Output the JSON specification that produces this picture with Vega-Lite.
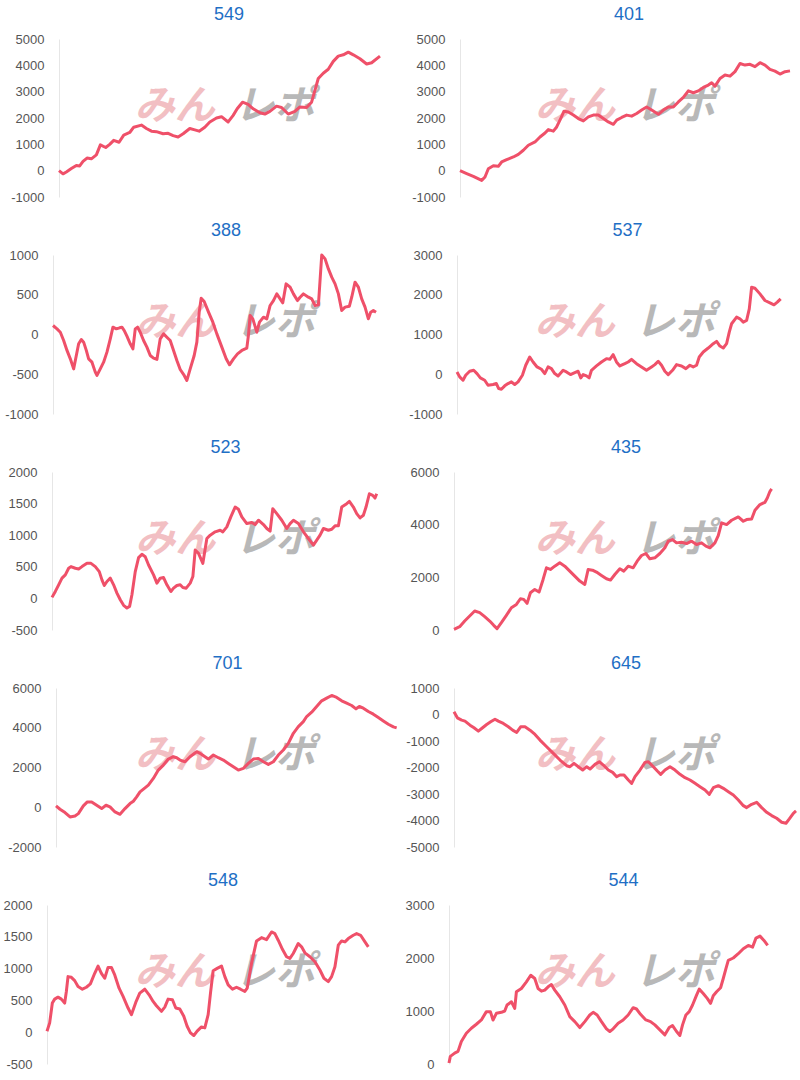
{
"$schema": "https://vega.github.io/schema/vega-lite/v6.json",
"background": "white",
"padding": {"left": 0, "top": 6, "right": 0, "bottom": 0},
"spacing": 18,
"columns": 1,
"datasets": {
"s549": [{"x":0,"y":0},{"x":12,"y":-120},{"x":22,"y":-50},{"x":37,"y":80},{"x":52,"y":200},{"x":62,"y":180},{"x":72,"y":350},{"x":84,"y":480},{"x":97,"y":450},{"x":112,"y":600},{"x":124,"y":980},{"x":140,"y":880},{"x":152,"y":1000},{"x":164,"y":1150},{"x":180,"y":1080},{"x":194,"y":1350},{"x":212,"y":1450},{"x":224,"y":1650},{"x":247,"y":1730},{"x":262,"y":1600},{"x":277,"y":1500},{"x":292,"y":1480},{"x":312,"y":1400},{"x":327,"y":1420},{"x":342,"y":1330},{"x":357,"y":1280},{"x":372,"y":1400},{"x":392,"y":1600},{"x":407,"y":1550},{"x":420,"y":1500},{"x":437,"y":1650},{"x":452,"y":1850},{"x":472,"y":2000},{"x":487,"y":2050},{"x":507,"y":1850},{"x":522,"y":2100},{"x":534,"y":2350},{"x":550,"y":2600},{"x":567,"y":2520},{"x":582,"y":2350},{"x":602,"y":2200},{"x":617,"y":2150},{"x":632,"y":2250},{"x":652,"y":2450},{"x":667,"y":2400},{"x":687,"y":2150},{"x":707,"y":2250},{"x":722,"y":2420},{"x":742,"y":2400},{"x":757,"y":2600},{"x":767,"y":3050},{"x":777,"y":3500},{"x":792,"y":3700},{"x":807,"y":3850},{"x":822,"y":4150},{"x":837,"y":4350},{"x":852,"y":4400},{"x":867,"y":4500},{"x":882,"y":4400},{"x":902,"y":4250},{"x":922,"y":4050},{"x":937,"y":4100},{"x":962,"y":4350}],
"s401": [{"x":0,"y":0},{"x":20,"y":-110},{"x":40,"y":-215},{"x":65,"y":-370},{"x":75,"y":-240},{"x":85,"y":75},{"x":100,"y":190},{"x":115,"y":165},{"x":125,"y":330},{"x":140,"y":420},{"x":160,"y":520},{"x":175,"y":620},{"x":190,"y":775},{"x":205,"y":965},{"x":225,"y":1090},{"x":240,"y":1280},{"x":255,"y":1430},{"x":265,"y":1560},{"x":280,"y":1500},{"x":290,"y":1660},{"x":302,"y":1980},{"x":312,"y":2260},{"x":325,"y":2230},{"x":340,"y":2110},{"x":355,"y":1980},{"x":370,"y":1890},{"x":385,"y":2040},{"x":400,"y":2110},{"x":415,"y":2110},{"x":430,"y":1980},{"x":445,"y":1850},{"x":460,"y":1760},{"x":470,"y":1920},{"x":485,"y":2020},{"x":500,"y":2110},{"x":515,"y":2070},{"x":530,"y":2170},{"x":545,"y":2300},{"x":560,"y":2420},{"x":575,"y":2300},{"x":595,"y":2140},{"x":610,"y":2300},{"x":625,"y":2420},{"x":640,"y":2420},{"x":655,"y":2610},{"x":670,"y":2780},{"x":685,"y":3030},{"x":700,"y":2960},{"x":715,"y":3030},{"x":730,"y":3160},{"x":745,"y":3250},{"x":755,"y":3340},{"x":765,"y":3210},{"x":780,"y":3500},{"x":795,"y":3630},{"x":810,"y":3590},{"x":825,"y":3760},{"x":840,"y":4070},{"x":855,"y":4010},{"x":870,"y":4040},{"x":885,"y":3950},{"x":900,"y":4100},{"x":915,"y":4010},{"x":930,"y":3850},{"x":945,"y":3780},{"x":960,"y":3670},{"x":975,"y":3760},{"x":990,"y":3790}],
"s388": [{"x":0,"y":113},{"x":12,"y":71},{"x":22,"y":29},{"x":32,"y":-75},{"x":42,"y":-200},{"x":52,"y":-306},{"x":62,"y":-432},{"x":70,"y":-264},{"x":77,"y":-117},{"x":85,"y":-63},{"x":92,"y":-96},{"x":100,"y":-200},{"x":107,"y":-306},{"x":117,"y":-348},{"x":127,"y":-473},{"x":132,"y":-515},{"x":142,"y":-432},{"x":152,"y":-348},{"x":162,"y":-222},{"x":172,"y":-54},{"x":180,"y":92},{"x":190,"y":71},{"x":200,"y":84},{"x":207,"y":92},{"x":214,"y":50},{"x":222,"y":-21},{"x":232,"y":-117},{"x":240,"y":-180},{"x":247,"y":71},{"x":254,"y":92},{"x":262,"y":29},{"x":272,"y":-75},{"x":282,"y":-159},{"x":292,"y":-264},{"x":302,"y":-297},{"x":312,"y":-314},{"x":322,"y":-54},{"x":332,"y":8},{"x":342,"y":-34},{"x":352,"y":-75},{"x":362,"y":-201},{"x":372,"y":-327},{"x":382,"y":-440},{"x":394,"y":-515},{"x":402,"y":-578},{"x":412,"y":-432},{"x":424,"y":-264},{"x":432,"y":-96},{"x":439,"y":281},{"x":445,"y":457},{"x":454,"y":415},{"x":467,"y":281},{"x":480,"y":155},{"x":492,"y":8},{"x":507,"y":-159},{"x":520,"y":-306},{"x":530,"y":-381},{"x":542,"y":-306},{"x":554,"y":-243},{"x":567,"y":-201},{"x":582,"y":-172},{"x":587,"y":-4},{"x":592,"y":239},{"x":600,"y":197},{"x":612,"y":29},{"x":620,"y":155},{"x":632,"y":218},{"x":642,"y":197},{"x":652,"y":365},{"x":662,"y":427},{"x":672,"y":511},{"x":682,"y":448},{"x":690,"y":398},{"x":700,"y":637},{"x":712,"y":595},{"x":722,"y":511},{"x":734,"y":427},{"x":742,"y":469},{"x":752,"y":511},{"x":767,"y":469},{"x":777,"y":448},{"x":787,"y":365},{"x":797,"y":373},{"x":807,"y":1000},{"x":817,"y":951},{"x":827,"y":825},{"x":837,"y":721},{"x":847,"y":637},{"x":857,"y":511},{"x":867,"y":302},{"x":877,"y":344},{"x":890,"y":356},{"x":897,"y":469},{"x":907,"y":658},{"x":917,"y":595},{"x":927,"y":448},{"x":937,"y":344},{"x":947,"y":197},{"x":954,"y":281},{"x":962,"y":302},{"x":970,"y":281}],
"s537": [{"x":0,"y":58},{"x":8,"y":-67},{"x":18,"y":-150},{"x":26,"y":-25},{"x":38,"y":75},{"x":50,"y":100},{"x":60,"y":17},{"x":70,"y":-92},{"x":83,"y":-150},{"x":93,"y":-276},{"x":108,"y":-259},{"x":118,"y":-234},{"x":125,"y":-359},{"x":133,"y":-376},{"x":143,"y":-292},{"x":153,"y":-234},{"x":163,"y":-192},{"x":173,"y":-259},{"x":183,"y":-192},{"x":196,"y":-25},{"x":206,"y":226},{"x":218,"y":434},{"x":228,"y":309},{"x":240,"y":184},{"x":253,"y":125},{"x":263,"y":17},{"x":273,"y":184},{"x":283,"y":142},{"x":293,"y":17},{"x":303,"y":-42},{"x":318,"y":100},{"x":328,"y":58},{"x":340,"y":-8},{"x":353,"y":42},{"x":363,"y":75},{"x":371,"y":-92},{"x":378,"y":-8},{"x":388,"y":-42},{"x":396,"y":-92},{"x":403,"y":100},{"x":418,"y":209},{"x":433,"y":309},{"x":448,"y":393},{"x":458,"y":376},{"x":468,"y":493},{"x":478,"y":309},{"x":488,"y":209},{"x":503,"y":267},{"x":513,"y":309},{"x":523,"y":376},{"x":538,"y":267},{"x":553,"y":184},{"x":568,"y":100},{"x":583,"y":184},{"x":593,"y":242},{"x":603,"y":326},{"x":613,"y":226},{"x":623,"y":75},{"x":633,"y":-8},{"x":646,"y":100},{"x":658,"y":242},{"x":673,"y":209},{"x":686,"y":142},{"x":698,"y":226},{"x":708,"y":184},{"x":718,"y":226},{"x":726,"y":434},{"x":738,"y":560},{"x":753,"y":660},{"x":768,"y":769},{"x":778,"y":827},{"x":788,"y":710},{"x":798,"y":660},{"x":808,"y":769},{"x":816,"y":1061},{"x":823,"y":1270},{"x":838,"y":1437},{"x":848,"y":1395},{"x":858,"y":1312},{"x":868,"y":1354},{"x":876,"y":1646},{"x":883,"y":2189},{"x":893,"y":2164},{"x":908,"y":2022},{"x":923,"y":1855},{"x":938,"y":1796},{"x":950,"y":1746},{"x":960,"y":1813},{"x":970,"y":1897}],
"s523": [{"x":0,"y":16},{"x":10,"y":110},{"x":20,"y":215},{"x":30,"y":320},{"x":40,"y":372},{"x":50,"y":477},{"x":57,"y":503},{"x":70,"y":477},{"x":80,"y":466},{"x":90,"y":503},{"x":105,"y":555},{"x":117,"y":555},{"x":130,"y":503},{"x":142,"y":424},{"x":150,"y":293},{"x":157,"y":204},{"x":165,"y":267},{"x":175,"y":320},{"x":185,"y":215},{"x":195,"y":84},{"x":205,"y":-21},{"x":215,"y":-110},{"x":225,"y":-152},{"x":233,"y":-126},{"x":240,"y":58},{"x":250,"y":424},{"x":260,"y":645},{"x":270,"y":697},{"x":280,"y":660},{"x":290,"y":529},{"x":305,"y":372},{"x":315,"y":241},{"x":325,"y":320},{"x":335,"y":330},{"x":345,"y":215},{"x":357,"y":110},{"x":365,"y":162},{"x":375,"y":204},{"x":385,"y":215},{"x":393,"y":173},{"x":403,"y":162},{"x":415,"y":241},{"x":423,"y":346},{"x":430,"y":765},{"x":440,"y":713},{"x":453,"y":555},{"x":465,"y":948},{"x":475,"y":1001},{"x":490,"y":1053},{"x":505,"y":1079},{"x":513,"y":1053},{"x":525,"y":1132},{"x":537,"y":1289},{"x":550,"y":1446},{"x":560,"y":1410},{"x":570,"y":1289},{"x":585,"y":1184},{"x":600,"y":1200},{"x":610,"y":1168},{"x":620,"y":1237},{"x":635,"y":1168},{"x":645,"y":1106},{"x":655,"y":1064},{"x":663,"y":1420},{"x":675,"y":1341},{"x":690,"y":1237},{"x":705,"y":1106},{"x":715,"y":1184},{"x":725,"y":1237},{"x":740,"y":1184},{"x":755,"y":1053},{"x":770,"y":948},{"x":785,"y":844},{"x":795,"y":922},{"x":805,"y":1001},{"x":815,"y":1106},{"x":830,"y":1079},{"x":840,"y":1095},{"x":850,"y":1148},{"x":860,"y":1148},{"x":870,"y":1446},{"x":885,"y":1499},{"x":893,"y":1535},{"x":905,"y":1446},{"x":915,"y":1341},{"x":925,"y":1273},{"x":935,"y":1315},{"x":943,"y":1446},{"x":953,"y":1656},{"x":963,"y":1630},{"x":970,"y":1588},{"x":975,"y":1656}],
"s435": [{"x":0,"y":25},{"x":17,"y":126},{"x":32,"y":341},{"x":47,"y":530},{"x":62,"y":720},{"x":77,"y":657},{"x":92,"y":505},{"x":107,"y":341},{"x":119,"y":177},{"x":129,"y":51},{"x":142,"y":278},{"x":157,"y":556},{"x":172,"y":846},{"x":187,"y":972},{"x":199,"y":1187},{"x":209,"y":1162},{"x":219,"y":1010},{"x":229,"y":1414},{"x":242,"y":1541},{"x":255,"y":1440},{"x":267,"y":1920},{"x":277,"y":2362},{"x":289,"y":2299},{"x":302,"y":2425},{"x":317,"y":2551},{"x":332,"y":2425},{"x":347,"y":2236},{"x":362,"y":2046},{"x":377,"y":1857},{"x":392,"y":1730},{"x":402,"y":2299},{"x":415,"y":2273},{"x":427,"y":2198},{"x":442,"y":2071},{"x":457,"y":1945},{"x":469,"y":1895},{"x":482,"y":2109},{"x":497,"y":2324},{"x":509,"y":2236},{"x":522,"y":2425},{"x":537,"y":2362},{"x":549,"y":2614},{"x":562,"y":2829},{"x":575,"y":2905},{"x":587,"y":2703},{"x":602,"y":2741},{"x":617,"y":2905},{"x":632,"y":3120},{"x":642,"y":3372},{"x":655,"y":3435},{"x":667,"y":3309},{"x":682,"y":3334},{"x":697,"y":3284},{"x":712,"y":3372},{"x":727,"y":3246},{"x":742,"y":3309},{"x":755,"y":3183},{"x":767,"y":3120},{"x":782,"y":3309},{"x":792,"y":3587},{"x":802,"y":4067},{"x":817,"y":4004},{"x":832,"y":4168},{"x":852,"y":4294},{"x":867,"y":4130},{"x":877,"y":4193},{"x":892,"y":4218},{"x":902,"y":4547},{"x":917,"y":4762},{"x":932,"y":4850},{"x":939,"y":5014},{"x":947,"y":5267},{"x":952,"y":5355}],
"s701": [{"x":0,"y":67},{"x":12,"y":-101},{"x":27,"y":-269},{"x":42,"y":-488},{"x":57,"y":-438},{"x":67,"y":-320},{"x":82,"y":67},{"x":94,"y":269},{"x":107,"y":269},{"x":122,"y":101},{"x":137,"y":-67},{"x":150,"y":101},{"x":162,"y":17},{"x":177,"y":-236},{"x":192,"y":-354},{"x":207,"y":-67},{"x":222,"y":185},{"x":232,"y":303},{"x":242,"y":522},{"x":252,"y":775},{"x":267,"y":977},{"x":277,"y":1111},{"x":292,"y":1448},{"x":307,"y":1869},{"x":322,"y":2122},{"x":337,"y":2425},{"x":352,"y":2543},{"x":362,"y":2492},{"x":372,"y":2374},{"x":387,"y":2290},{"x":402,"y":2543},{"x":422,"y":2795},{"x":432,"y":2711},{"x":447,"y":2543},{"x":457,"y":2425},{"x":472,"y":2627},{"x":487,"y":2492},{"x":502,"y":2374},{"x":517,"y":2206},{"x":532,"y":2038},{"x":547,"y":1869},{"x":562,"y":1953},{"x":577,"y":2206},{"x":592,"y":2425},{"x":607,"y":2459},{"x":622,"y":2290},{"x":637,"y":2155},{"x":652,"y":2290},{"x":667,"y":2627},{"x":682,"y":2880},{"x":697,"y":3216},{"x":712,"y":3722},{"x":727,"y":4058},{"x":742,"y":4311},{"x":752,"y":4564},{"x":767,"y":4783},{"x":782,"y":5069},{"x":797,"y":5355},{"x":812,"y":5490},{"x":827,"y":5625},{"x":842,"y":5524},{"x":857,"y":5355},{"x":872,"y":5237},{"x":887,"y":5119},{"x":900,"y":4951},{"x":910,"y":5069},{"x":922,"y":4985},{"x":937,"y":4816},{"x":952,"y":4682},{"x":967,"y":4513},{"x":982,"y":4345},{"x":997,"y":4176},{"x":1012,"y":4042},{"x":1022,"y":3991}],
"s645": [{"x":0,"y":100},{"x":10,"y":-126},{"x":23,"y":-213},{"x":33,"y":-251},{"x":48,"y":-402},{"x":60,"y":-502},{"x":73,"y":-628},{"x":83,"y":-527},{"x":98,"y":-377},{"x":110,"y":-276},{"x":123,"y":-176},{"x":133,"y":-251},{"x":148,"y":-339},{"x":163,"y":-464},{"x":176,"y":-590},{"x":188,"y":-678},{"x":200,"y":-464},{"x":213,"y":-464},{"x":228,"y":-590},{"x":243,"y":-753},{"x":258,"y":-966},{"x":278,"y":-1217},{"x":298,"y":-1468},{"x":318,"y":-1719},{"x":338,"y":-1933},{"x":348,"y":-1970},{"x":360,"y":-1845},{"x":373,"y":-1970},{"x":386,"y":-2096},{"x":398,"y":-1970},{"x":408,"y":-2058},{"x":423,"y":-1883},{"x":436,"y":-1782},{"x":448,"y":-1908},{"x":463,"y":-2096},{"x":476,"y":-2184},{"x":488,"y":-2347},{"x":498,"y":-2284},{"x":510,"y":-2284},{"x":523,"y":-2472},{"x":533,"y":-2598},{"x":543,"y":-2347},{"x":558,"y":-2096},{"x":573,"y":-1807},{"x":583,"y":-1782},{"x":598,"y":-1970},{"x":610,"y":-2134},{"x":620,"y":-2259},{"x":633,"y":-2096},{"x":648,"y":-1970},{"x":663,"y":-2096},{"x":678,"y":-2259},{"x":693,"y":-2385},{"x":708,"y":-2472},{"x":723,"y":-2598},{"x":738,"y":-2723},{"x":753,"y":-2849},{"x":766,"y":-3012},{"x":778,"y":-2761},{"x":793,"y":-2686},{"x":808,"y":-2786},{"x":823,"y":-2912},{"x":838,"y":-3037},{"x":853,"y":-3225},{"x":868,"y":-3439},{"x":878,"y":-3514},{"x":893,"y":-3389},{"x":908,"y":-3313},{"x":923,"y":-3514},{"x":938,"y":-3690},{"x":953,"y":-3815},{"x":968,"y":-3916},{"x":983,"y":-4066},{"x":996,"y":-4104},{"x":1006,"y":-3941},{"x":1018,"y":-3727},{"x":1026,"y":-3640}],
"s548": [{"x":0,"y":16},{"x":8,"y":146},{"x":16,"y":458},{"x":23,"y":520},{"x":33,"y":551},{"x":43,"y":520},{"x":53,"y":458},{"x":58,"y":640},{"x":63,"y":874},{"x":73,"y":863},{"x":83,"y":811},{"x":93,"y":718},{"x":106,"y":676},{"x":118,"y":707},{"x":130,"y":759},{"x":143,"y":926},{"x":153,"y":1040},{"x":163,"y":926},{"x":173,"y":848},{"x":183,"y":1019},{"x":193,"y":1019},{"x":203,"y":900},{"x":216,"y":692},{"x":228,"y":562},{"x":243,"y":380},{"x":253,"y":276},{"x":266,"y":468},{"x":278,"y":614},{"x":293,"y":676},{"x":306,"y":588},{"x":318,"y":484},{"x":328,"y":416},{"x":343,"y":328},{"x":353,"y":395},{"x":363,"y":520},{"x":376,"y":510},{"x":386,"y":380},{"x":398,"y":364},{"x":410,"y":250},{"x":420,"y":94},{"x":430,"y":-10},{"x":440,"y":-52},{"x":450,"y":16},{"x":463,"y":83},{"x":473,"y":68},{"x":483,"y":276},{"x":490,"y":614},{"x":498,"y":967},{"x":510,"y":1004},{"x":523,"y":1040},{"x":533,"y":874},{"x":543,"y":744},{"x":556,"y":676},{"x":568,"y":707},{"x":580,"y":676},{"x":593,"y":640},{"x":600,"y":692},{"x":613,"y":1082},{"x":628,"y":1435},{"x":643,"y":1487},{"x":658,"y":1456},{"x":673,"y":1576},{"x":683,"y":1550},{"x":693,"y":1446},{"x":706,"y":1300},{"x":718,"y":1186},{"x":728,"y":1160},{"x":738,"y":1238},{"x":753,"y":1394},{"x":763,"y":1342},{"x":773,"y":1248},{"x":788,"y":1186},{"x":803,"y":1108},{"x":818,"y":978},{"x":830,"y":848},{"x":843,"y":796},{"x":853,"y":874},{"x":863,"y":1030},{"x":873,"y":1368},{"x":883,"y":1435},{"x":893,"y":1420},{"x":903,"y":1472},{"x":918,"y":1524},{"x":928,"y":1550},{"x":940,"y":1524},{"x":953,"y":1420},{"x":963,"y":1342}],
"s544": [{"x":0,"y":19},{"x":4,"y":144},{"x":17,"y":206},{"x":27,"y":238},{"x":37,"y":425},{"x":52,"y":581},{"x":67,"y":675},{"x":82,"y":750},{"x":97,"y":831},{"x":112,"y":988},{"x":124,"y":988},{"x":132,"y":831},{"x":142,"y":956},{"x":157,"y":975},{"x":167,"y":1000},{"x":174,"y":1113},{"x":187,"y":1175},{"x":197,"y":1050},{"x":202,"y":1363},{"x":217,"y":1425},{"x":232,"y":1550},{"x":245,"y":1675},{"x":257,"y":1613},{"x":267,"y":1425},{"x":277,"y":1375},{"x":287,"y":1394},{"x":297,"y":1456},{"x":307,"y":1500},{"x":317,"y":1394},{"x":332,"y":1269},{"x":347,"y":1113},{"x":362,"y":894},{"x":377,"y":800},{"x":392,"y":688},{"x":407,"y":800},{"x":422,"y":925},{"x":432,"y":975},{"x":444,"y":925},{"x":457,"y":800},{"x":472,"y":663},{"x":482,"y":613},{"x":492,"y":663},{"x":507,"y":769},{"x":522,"y":831},{"x":537,"y":925},{"x":552,"y":1063},{"x":562,"y":1038},{"x":574,"y":938},{"x":590,"y":831},{"x":604,"y":800},{"x":617,"y":738},{"x":632,"y":644},{"x":647,"y":550},{"x":660,"y":688},{"x":670,"y":725},{"x":682,"y":613},{"x":692,"y":538},{"x":700,"y":738},{"x":710,"y":925},{"x":720,"y":988},{"x":730,"y":1113},{"x":742,"y":1300},{"x":750,"y":1413},{"x":762,"y":1331},{"x":774,"y":1238},{"x":784,"y":1144},{"x":792,"y":1288},{"x":802,"y":1363},{"x":814,"y":1438},{"x":822,"y":1613},{"x":830,"y":1800},{"x":837,"y":1956},{"x":852,"y":2000},{"x":867,"y":2081},{"x":882,"y":2175},{"x":897,"y":2238},{"x":910,"y":2206},{"x":920,"y":2375},{"x":932,"y":2413},{"x":944,"y":2331},{"x":955,"y":2238}]
},
"concat": [
{"spacing": 0, "hconcat": [
{"width": 1, "height": 1, "data": {"values": []}, "mark": "point"},
{"width": 340, "height": 158, "title": "549", "layer": [
{"data": {"values": [{}]}, "mark": {"type": "text", "text": "みん", "font": "Noto Sans CJK JP", "fontSize": 40, "fontWeight": "bold", "fontStyle": "italic", "color": "#f2bfc3", "align": "center", "baseline": "middle"}, "encoding": {"x": {"datum": 347, "type": "quantitative", "scale": {"domain": [0, 1019], "nice": false}, "axis": null}, "y": {"datum": 2420, "type": "quantitative", "scale": {"domain": [-1000, 5000], "nice": false}, "axis": {"title": null, "labelExpr": "'' + datum.value", "values": [-1000, 0, 1000, 2000, 3000, 4000, 5000], "minExtent": 58, "maxExtent": 58, "gridColor": {"condition": {"test": "datum.value === 0", "value": "#cccccc"}, "value": "#ebebeb"}}}}},
{"data": {"values": [{}]}, "mark": {"type": "text", "text": "レポ", "font": "Noto Sans CJK JP", "fontSize": 40, "fontWeight": "bold", "fontStyle": "italic", "color": "#b8b8b8", "align": "center", "baseline": "middle"}, "encoding": {"x": {"datum": 646, "type": "quantitative", "scale": {"domain": [0, 1019], "nice": false}, "axis": null}, "y": {"datum": 2420, "type": "quantitative", "scale": {"domain": [-1000, 5000], "nice": false}, "axis": {"title": null, "labelExpr": "'' + datum.value", "values": [-1000, 0, 1000, 2000, 3000, 4000, 5000], "minExtent": 58, "maxExtent": 58, "gridColor": {"condition": {"test": "datum.value === 0", "value": "#cccccc"}, "value": "#ebebeb"}}}}},
{"data": {"name": "s549"}, "mark": {"type": "line", "color": "#ef5069", "strokeWidth": 3, "strokeJoin": "round"}, "encoding": {"x": {"field": "x", "type": "quantitative", "scale": {"domain": [0, 1019], "nice": false}, "axis": null}, "y": {"field": "y", "type": "quantitative", "scale": {"domain": [-1000, 5000], "nice": false}, "axis": {"title": null, "labelExpr": "'' + datum.value", "values": [-1000, 0, 1000, 2000, 3000, 4000, 5000], "minExtent": 58, "maxExtent": 58, "gridColor": {"condition": {"test": "datum.value === 0", "value": "#cccccc"}, "value": "#ebebeb"}}}}}
]},
{"width": 338, "height": 158, "title": "401", "layer": [
{"data": {"values": [{}]}, "mark": {"type": "text", "text": "みん", "font": "Noto Sans CJK JP", "fontSize": 40, "fontWeight": "bold", "fontStyle": "italic", "color": "#f2bfc3", "align": "center", "baseline": "middle"}, "encoding": {"x": {"datum": 345, "type": "quantitative", "scale": {"domain": [0, 1014], "nice": false}, "axis": null}, "y": {"datum": 2420, "type": "quantitative", "scale": {"domain": [-1000, 5000], "nice": false}, "axis": {"title": null, "labelExpr": "'' + datum.value", "values": [-1000, 0, 1000, 2000, 3000, 4000, 5000], "minExtent": 61, "maxExtent": 61, "gridColor": {"condition": {"test": "datum.value === 0", "value": "#cccccc"}, "value": "#ebebeb"}}}}},
{"data": {"values": [{}]}, "mark": {"type": "text", "text": "レポ", "font": "Noto Sans CJK JP", "fontSize": 40, "fontWeight": "bold", "fontStyle": "italic", "color": "#b8b8b8", "align": "center", "baseline": "middle"}, "encoding": {"x": {"datum": 645, "type": "quantitative", "scale": {"domain": [0, 1014], "nice": false}, "axis": null}, "y": {"datum": 2420, "type": "quantitative", "scale": {"domain": [-1000, 5000], "nice": false}, "axis": {"title": null, "labelExpr": "'' + datum.value", "values": [-1000, 0, 1000, 2000, 3000, 4000, 5000], "minExtent": 61, "maxExtent": 61, "gridColor": {"condition": {"test": "datum.value === 0", "value": "#cccccc"}, "value": "#ebebeb"}}}}},
{"data": {"name": "s401"}, "mark": {"type": "line", "color": "#ef5069", "strokeWidth": 3, "strokeJoin": "round"}, "encoding": {"x": {"field": "x", "type": "quantitative", "scale": {"domain": [0, 1014], "nice": false}, "axis": null}, "y": {"field": "y", "type": "quantitative", "scale": {"domain": [-1000, 5000], "nice": false}, "axis": {"title": null, "labelExpr": "'' + datum.value", "values": [-1000, 0, 1000, 2000, 3000, 4000, 5000], "minExtent": 61, "maxExtent": 61, "gridColor": {"condition": {"test": "datum.value === 0", "value": "#cccccc"}, "value": "#ebebeb"}}}}}
]}
]},
{"spacing": 0, "hconcat": [
{"width": 1, "height": 1, "data": {"values": []}, "mark": "point"},
{"width": 346, "height": 159, "title": "388", "layer": [
{"data": {"values": [{}]}, "mark": {"type": "text", "text": "みん", "font": "Noto Sans CJK JP", "fontSize": 40, "fontWeight": "bold", "fontStyle": "italic", "color": "#f2bfc3", "align": "center", "baseline": "middle"}, "encoding": {"x": {"datum": 367, "type": "quantitative", "scale": {"domain": [0, 1039], "nice": false}, "axis": null}, "y": {"datum": 140, "type": "quantitative", "scale": {"domain": [-1000, 1000], "nice": false}, "axis": {"title": null, "labelExpr": "'' + datum.value", "values": [-1000, -500, 0, 500, 1000], "minExtent": 52, "maxExtent": 52, "gridColor": {"condition": {"test": "datum.value === 0", "value": "#cccccc"}, "value": "#ebebeb"}}}}},
{"data": {"values": [{}]}, "mark": {"type": "text", "text": "レポ", "font": "Noto Sans CJK JP", "fontSize": 40, "fontWeight": "bold", "fontStyle": "italic", "color": "#b8b8b8", "align": "center", "baseline": "middle"}, "encoding": {"x": {"datum": 667, "type": "quantitative", "scale": {"domain": [0, 1039], "nice": false}, "axis": null}, "y": {"datum": 140, "type": "quantitative", "scale": {"domain": [-1000, 1000], "nice": false}, "axis": {"title": null, "labelExpr": "'' + datum.value", "values": [-1000, -500, 0, 500, 1000], "minExtent": 52, "maxExtent": 52, "gridColor": {"condition": {"test": "datum.value === 0", "value": "#cccccc"}, "value": "#ebebeb"}}}}},
{"data": {"name": "s388"}, "mark": {"type": "line", "color": "#ef5069", "strokeWidth": 3, "strokeJoin": "round"}, "encoding": {"x": {"field": "x", "type": "quantitative", "scale": {"domain": [0, 1039], "nice": false}, "axis": null}, "y": {"field": "y", "type": "quantitative", "scale": {"domain": [-1000, 1000], "nice": false}, "axis": {"title": null, "labelExpr": "'' + datum.value", "values": [-1000, -500, 0, 500, 1000], "minExtent": 52, "maxExtent": 52, "gridColor": {"condition": {"test": "datum.value === 0", "value": "#cccccc"}, "value": "#ebebeb"}}}}}
]},
{"width": 341, "height": 159, "title": "537", "layer": [
{"data": {"values": [{}]}, "mark": {"type": "text", "text": "みん", "font": "Noto Sans CJK JP", "fontSize": 40, "fontWeight": "bold", "fontStyle": "italic", "color": "#f2bfc3", "align": "center", "baseline": "middle"}, "encoding": {"x": {"datum": 353, "type": "quantitative", "scale": {"domain": [0, 1022], "nice": false}, "axis": null}, "y": {"datum": 1280, "type": "quantitative", "scale": {"domain": [-1000, 3000], "nice": false}, "axis": {"title": null, "labelExpr": "'' + datum.value", "values": [-1000, 0, 1000, 2000, 3000], "minExtent": 58, "maxExtent": 58, "gridColor": {"condition": {"test": "datum.value === 0", "value": "#cccccc"}, "value": "#ebebeb"}}}}},
{"data": {"values": [{}]}, "mark": {"type": "text", "text": "レポ", "font": "Noto Sans CJK JP", "fontSize": 40, "fontWeight": "bold", "fontStyle": "italic", "color": "#b8b8b8", "align": "center", "baseline": "middle"}, "encoding": {"x": {"datum": 653, "type": "quantitative", "scale": {"domain": [0, 1022], "nice": false}, "axis": null}, "y": {"datum": 1280, "type": "quantitative", "scale": {"domain": [-1000, 3000], "nice": false}, "axis": {"title": null, "labelExpr": "'' + datum.value", "values": [-1000, 0, 1000, 2000, 3000], "minExtent": 58, "maxExtent": 58, "gridColor": {"condition": {"test": "datum.value === 0", "value": "#cccccc"}, "value": "#ebebeb"}}}}},
{"data": {"name": "s537"}, "mark": {"type": "line", "color": "#ef5069", "strokeWidth": 3, "strokeJoin": "round"}, "encoding": {"x": {"field": "x", "type": "quantitative", "scale": {"domain": [0, 1022], "nice": false}, "axis": null}, "y": {"field": "y", "type": "quantitative", "scale": {"domain": [-1000, 3000], "nice": false}, "axis": {"title": null, "labelExpr": "'' + datum.value", "values": [-1000, 0, 1000, 2000, 3000], "minExtent": 58, "maxExtent": 58, "gridColor": {"condition": {"test": "datum.value === 0", "value": "#cccccc"}, "value": "#ebebeb"}}}}}
]}
]},
{"spacing": 0, "hconcat": [
{"width": 1, "height": 1, "data": {"values": []}, "mark": "point"},
{"width": 347, "height": 158, "title": "523", "layer": [
{"data": {"values": [{}]}, "mark": {"type": "text", "text": "みん", "font": "Noto Sans CJK JP", "fontSize": 40, "fontWeight": "bold", "fontStyle": "italic", "color": "#f2bfc3", "align": "center", "baseline": "middle"}, "encoding": {"x": {"datum": 370, "type": "quantitative", "scale": {"domain": [0, 1042], "nice": false}, "axis": null}, "y": {"datum": 925, "type": "quantitative", "scale": {"domain": [-500, 2000], "nice": false}, "axis": {"title": null, "labelExpr": "'' + datum.value", "values": [-500, 0, 500, 1000, 1500, 2000], "minExtent": 51, "maxExtent": 51, "gridColor": {"condition": {"test": "datum.value === 0", "value": "#cccccc"}, "value": "#ebebeb"}}}}},
{"data": {"values": [{}]}, "mark": {"type": "text", "text": "レポ", "font": "Noto Sans CJK JP", "fontSize": 40, "fontWeight": "bold", "fontStyle": "italic", "color": "#b8b8b8", "align": "center", "baseline": "middle"}, "encoding": {"x": {"datum": 670, "type": "quantitative", "scale": {"domain": [0, 1042], "nice": false}, "axis": null}, "y": {"datum": 925, "type": "quantitative", "scale": {"domain": [-500, 2000], "nice": false}, "axis": {"title": null, "labelExpr": "'' + datum.value", "values": [-500, 0, 500, 1000, 1500, 2000], "minExtent": 51, "maxExtent": 51, "gridColor": {"condition": {"test": "datum.value === 0", "value": "#cccccc"}, "value": "#ebebeb"}}}}},
{"data": {"name": "s523"}, "mark": {"type": "line", "color": "#ef5069", "strokeWidth": 3, "strokeJoin": "round"}, "encoding": {"x": {"field": "x", "type": "quantitative", "scale": {"domain": [0, 1042], "nice": false}, "axis": null}, "y": {"field": "y", "type": "quantitative", "scale": {"domain": [-500, 2000], "nice": false}, "axis": {"title": null, "labelExpr": "'' + datum.value", "values": [-500, 0, 500, 1000, 1500, 2000], "minExtent": 51, "maxExtent": 51, "gridColor": {"condition": {"test": "datum.value === 0", "value": "#cccccc"}, "value": "#ebebeb"}}}}}
]},
{"width": 344, "height": 158, "title": "435", "layer": [
{"data": {"values": [{}]}, "mark": {"type": "text", "text": "みん", "font": "Noto Sans CJK JP", "fontSize": 40, "fontWeight": "bold", "fontStyle": "italic", "color": "#f2bfc3", "align": "center", "baseline": "middle"}, "encoding": {"x": {"datum": 362, "type": "quantitative", "scale": {"domain": [0, 1031], "nice": false}, "axis": null}, "y": {"datum": 3420, "type": "quantitative", "scale": {"domain": [0, 6000], "nice": false}, "axis": {"title": null, "labelExpr": "'' + datum.value", "values": [0, 2000, 4000, 6000], "minExtent": 55, "maxExtent": 55, "gridColor": {"condition": {"test": "datum.value === 0", "value": "#cccccc"}, "value": "#ebebeb"}}}}},
{"data": {"values": [{}]}, "mark": {"type": "text", "text": "レポ", "font": "Noto Sans CJK JP", "fontSize": 40, "fontWeight": "bold", "fontStyle": "italic", "color": "#b8b8b8", "align": "center", "baseline": "middle"}, "encoding": {"x": {"datum": 662, "type": "quantitative", "scale": {"domain": [0, 1031], "nice": false}, "axis": null}, "y": {"datum": 3420, "type": "quantitative", "scale": {"domain": [0, 6000], "nice": false}, "axis": {"title": null, "labelExpr": "'' + datum.value", "values": [0, 2000, 4000, 6000], "minExtent": 55, "maxExtent": 55, "gridColor": {"condition": {"test": "datum.value === 0", "value": "#cccccc"}, "value": "#ebebeb"}}}}},
{"data": {"name": "s435"}, "mark": {"type": "line", "color": "#ef5069", "strokeWidth": 3, "strokeJoin": "round"}, "encoding": {"x": {"field": "x", "type": "quantitative", "scale": {"domain": [0, 1031], "nice": false}, "axis": null}, "y": {"field": "y", "type": "quantitative", "scale": {"domain": [0, 6000], "nice": false}, "axis": {"title": null, "labelExpr": "'' + datum.value", "values": [0, 2000, 4000, 6000], "minExtent": 55, "maxExtent": 55, "gridColor": {"condition": {"test": "datum.value === 0", "value": "#cccccc"}, "value": "#ebebeb"}}}}}
]}
]},
{"spacing": 0, "hconcat": [
{"width": 1, "height": 1, "data": {"values": []}, "mark": "point"},
{"width": 343, "height": 159, "title": "701", "layer": [
{"data": {"values": [{}]}, "mark": {"type": "text", "text": "みん", "font": "Noto Sans CJK JP", "fontSize": 40, "fontWeight": "bold", "fontStyle": "italic", "color": "#f2bfc3", "align": "center", "baseline": "middle"}, "encoding": {"x": {"datum": 357, "type": "quantitative", "scale": {"domain": [0, 1029], "nice": false}, "axis": null}, "y": {"datum": 2560, "type": "quantitative", "scale": {"domain": [-2000, 6000], "nice": false}, "axis": {"title": null, "labelExpr": "'' + datum.value", "values": [-2000, 0, 2000, 4000, 6000], "minExtent": 55, "maxExtent": 55, "gridColor": {"condition": {"test": "datum.value === 0", "value": "#cccccc"}, "value": "#ebebeb"}}}}},
{"data": {"values": [{}]}, "mark": {"type": "text", "text": "レポ", "font": "Noto Sans CJK JP", "fontSize": 40, "fontWeight": "bold", "fontStyle": "italic", "color": "#b8b8b8", "align": "center", "baseline": "middle"}, "encoding": {"x": {"datum": 657, "type": "quantitative", "scale": {"domain": [0, 1029], "nice": false}, "axis": null}, "y": {"datum": 2560, "type": "quantitative", "scale": {"domain": [-2000, 6000], "nice": false}, "axis": {"title": null, "labelExpr": "'' + datum.value", "values": [-2000, 0, 2000, 4000, 6000], "minExtent": 55, "maxExtent": 55, "gridColor": {"condition": {"test": "datum.value === 0", "value": "#cccccc"}, "value": "#ebebeb"}}}}},
{"data": {"name": "s701"}, "mark": {"type": "line", "color": "#ef5069", "strokeWidth": 3, "strokeJoin": "round"}, "encoding": {"x": {"field": "x", "type": "quantitative", "scale": {"domain": [0, 1029], "nice": false}, "axis": null}, "y": {"field": "y", "type": "quantitative", "scale": {"domain": [-2000, 6000], "nice": false}, "axis": {"title": null, "labelExpr": "'' + datum.value", "values": [-2000, 0, 2000, 4000, 6000], "minExtent": 55, "maxExtent": 55, "gridColor": {"condition": {"test": "datum.value === 0", "value": "#cccccc"}, "value": "#ebebeb"}}}}}
]},
{"width": 344, "height": 159, "title": "645", "layer": [
{"data": {"values": [{}]}, "mark": {"type": "text", "text": "みん", "font": "Noto Sans CJK JP", "fontSize": 40, "fontWeight": "bold", "fontStyle": "italic", "color": "#f2bfc3", "align": "center", "baseline": "middle"}, "encoding": {"x": {"datum": 363, "type": "quantitative", "scale": {"domain": [0, 1032], "nice": false}, "axis": null}, "y": {"datum": -1580, "type": "quantitative", "scale": {"domain": [-5000, 1000], "nice": false}, "axis": {"title": null, "labelExpr": "'' + datum.value", "values": [-5000, -4000, -3000, -2000, -1000, 0, 1000], "minExtent": 55, "maxExtent": 55, "gridColor": {"condition": {"test": "datum.value === 0", "value": "#cccccc"}, "value": "#ebebeb"}}}}},
{"data": {"values": [{}]}, "mark": {"type": "text", "text": "レポ", "font": "Noto Sans CJK JP", "fontSize": 40, "fontWeight": "bold", "fontStyle": "italic", "color": "#b8b8b8", "align": "center", "baseline": "middle"}, "encoding": {"x": {"datum": 663, "type": "quantitative", "scale": {"domain": [0, 1032], "nice": false}, "axis": null}, "y": {"datum": -1580, "type": "quantitative", "scale": {"domain": [-5000, 1000], "nice": false}, "axis": {"title": null, "labelExpr": "'' + datum.value", "values": [-5000, -4000, -3000, -2000, -1000, 0, 1000], "minExtent": 55, "maxExtent": 55, "gridColor": {"condition": {"test": "datum.value === 0", "value": "#cccccc"}, "value": "#ebebeb"}}}}},
{"data": {"name": "s645"}, "mark": {"type": "line", "color": "#ef5069", "strokeWidth": 3, "strokeJoin": "round"}, "encoding": {"x": {"field": "x", "type": "quantitative", "scale": {"domain": [0, 1032], "nice": false}, "axis": null}, "y": {"field": "y", "type": "quantitative", "scale": {"domain": [-5000, 1000], "nice": false}, "axis": {"title": null, "labelExpr": "'' + datum.value", "values": [-5000, -4000, -3000, -2000, -1000, 0, 1000], "minExtent": 55, "maxExtent": 55, "gridColor": {"condition": {"test": "datum.value === 0", "value": "#cccccc"}, "value": "#ebebeb"}}}}}
]}
]},
{"spacing": 0, "hconcat": [
{"width": 1, "height": 1, "data": {"values": []}, "mark": "point"},
{"width": 352, "height": 159, "title": "548", "layer": [
{"data": {"values": [{}]}, "mark": {"type": "text", "text": "みん", "font": "Noto Sans CJK JP", "fontSize": 40, "fontWeight": "bold", "fontStyle": "italic", "color": "#f2bfc3", "align": "center", "baseline": "middle"}, "encoding": {"x": {"datum": 383, "type": "quantitative", "scale": {"domain": [0, 1055], "nice": false}, "axis": null}, "y": {"datum": 925, "type": "quantitative", "scale": {"domain": [-500, 2000], "nice": false}, "axis": {"title": null, "labelExpr": "'' + datum.value", "values": [-500, 0, 500, 1000, 1500, 2000], "minExtent": 46, "maxExtent": 46, "gridColor": {"condition": {"test": "datum.value === 0", "value": "#cccccc"}, "value": "#ebebeb"}}}}},
{"data": {"values": [{}]}, "mark": {"type": "text", "text": "レポ", "font": "Noto Sans CJK JP", "fontSize": 40, "fontWeight": "bold", "fontStyle": "italic", "color": "#b8b8b8", "align": "center", "baseline": "middle"}, "encoding": {"x": {"datum": 683, "type": "quantitative", "scale": {"domain": [0, 1055], "nice": false}, "axis": null}, "y": {"datum": 925, "type": "quantitative", "scale": {"domain": [-500, 2000], "nice": false}, "axis": {"title": null, "labelExpr": "'' + datum.value", "values": [-500, 0, 500, 1000, 1500, 2000], "minExtent": 46, "maxExtent": 46, "gridColor": {"condition": {"test": "datum.value === 0", "value": "#cccccc"}, "value": "#ebebeb"}}}}},
{"data": {"name": "s548"}, "mark": {"type": "line", "color": "#ef5069", "strokeWidth": 3, "strokeJoin": "round"}, "encoding": {"x": {"field": "x", "type": "quantitative", "scale": {"domain": [0, 1055], "nice": false}, "axis": null}, "y": {"field": "y", "type": "quantitative", "scale": {"domain": [-500, 2000], "nice": false}, "axis": {"title": null, "labelExpr": "'' + datum.value", "values": [-500, 0, 500, 1000, 1500, 2000], "minExtent": 46, "maxExtent": 46, "gridColor": {"condition": {"test": "datum.value === 0", "value": "#cccccc"}, "value": "#ebebeb"}}}}}
]},
{"width": 349, "height": 159, "title": "544", "layer": [
{"data": {"values": [{}]}, "mark": {"type": "text", "text": "みん", "font": "Noto Sans CJK JP", "fontSize": 40, "fontWeight": "bold", "fontStyle": "italic", "color": "#f2bfc3", "align": "center", "baseline": "middle"}, "encoding": {"x": {"datum": 377, "type": "quantitative", "scale": {"domain": [0, 1046], "nice": false}, "axis": null}, "y": {"datum": 1710, "type": "quantitative", "scale": {"domain": [0, 3000], "nice": false}, "axis": {"title": null, "labelExpr": "'' + datum.value", "values": [0, 1000, 2000, 3000], "minExtent": 50, "maxExtent": 50, "gridColor": {"condition": {"test": "datum.value === 0", "value": "#cccccc"}, "value": "#ebebeb"}}}}},
{"data": {"values": [{}]}, "mark": {"type": "text", "text": "レポ", "font": "Noto Sans CJK JP", "fontSize": 40, "fontWeight": "bold", "fontStyle": "italic", "color": "#b8b8b8", "align": "center", "baseline": "middle"}, "encoding": {"x": {"datum": 677, "type": "quantitative", "scale": {"domain": [0, 1046], "nice": false}, "axis": null}, "y": {"datum": 1710, "type": "quantitative", "scale": {"domain": [0, 3000], "nice": false}, "axis": {"title": null, "labelExpr": "'' + datum.value", "values": [0, 1000, 2000, 3000], "minExtent": 50, "maxExtent": 50, "gridColor": {"condition": {"test": "datum.value === 0", "value": "#cccccc"}, "value": "#ebebeb"}}}}},
{"data": {"name": "s544"}, "mark": {"type": "line", "color": "#ef5069", "strokeWidth": 3, "strokeJoin": "round"}, "encoding": {"x": {"field": "x", "type": "quantitative", "scale": {"domain": [0, 1046], "nice": false}, "axis": null}, "y": {"field": "y", "type": "quantitative", "scale": {"domain": [0, 3000], "nice": false}, "axis": {"title": null, "labelExpr": "'' + datum.value", "values": [0, 1000, 2000, 3000], "minExtent": 50, "maxExtent": 50, "gridColor": {"condition": {"test": "datum.value === 0", "value": "#cccccc"}, "value": "#ebebeb"}}}}}
]}
]}
],
"config": {
"view": {"stroke": null},
"title": {"font": "Liberation Sans", "fontSize": 18, "fontWeight": "normal", "color": "#1f6fc5", "anchor": "middle", "baseline": "alphabetic", "offset": 9},
"axis": {"labelFont": "Liberation Sans", "labelFontSize": 13, "labelColor": "#555555", "ticks": false, "tickSize": 0, "labelPadding": 15, "domainColor": "#e6e6e6", "labelOverlap": false, "labelFlush": false}
}
}
